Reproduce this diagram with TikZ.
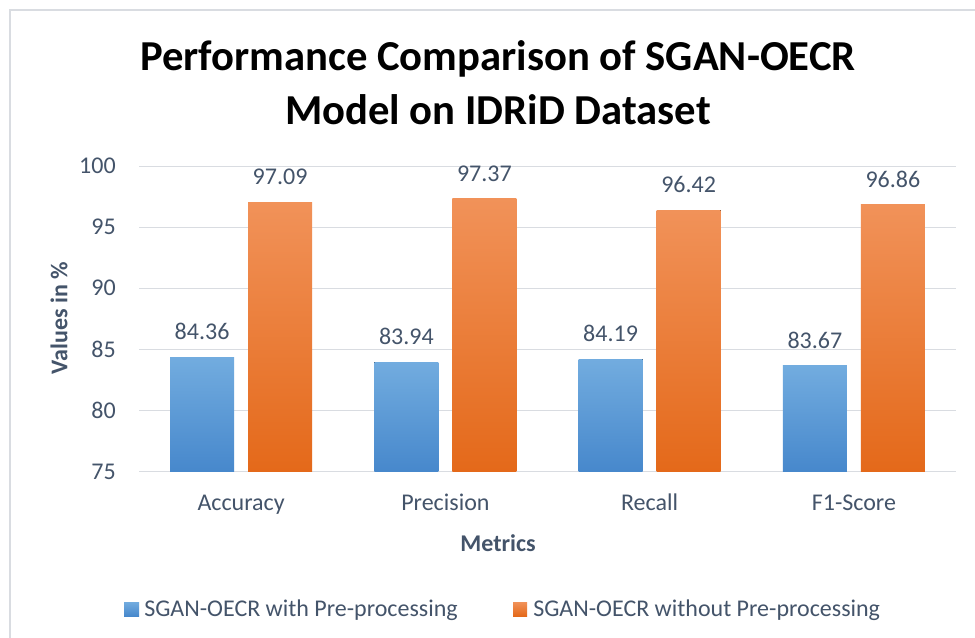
\documentclass[tikz,border=0pt]{standalone}
\usepackage{fontspec}
\setmainfont{Carlito}
\definecolor{txt}{HTML}{44546A}
\definecolor{grid}{HTML}{D9DCE1}
\definecolor{bluetop}{HTML}{72ACDF}
\definecolor{bluebot}{HTML}{4788CC}
\definecolor{orgtop}{HTML}{F19259}
\definecolor{orgbot}{HTML}{E4691A}
\begin{document}
\begin{tikzpicture}[x=0.75pt,y=-0.75pt,
  tick/.style={font=\fontsize{18}{21}\selectfont, text=txt, anchor=base east, inner sep=0pt},
  vlabel/.style={font=\fontsize{18}{21}\selectfont, text=txt, anchor=base, inner sep=0pt},
  cat/.style={font=\fontsize{18}{21}\selectfont, text=txt, anchor=base, inner sep=0pt},
  axtitle/.style={font=\bfseries\fontsize{18}{21}\selectfont, text=txt, inner sep=0pt},
  legtext/.style={font=\fontsize{18}{21}\selectfont, text=txt, anchor=base west, inner sep=0pt},
  bluebar/.style={top color=bluetop, bottom color=bluebot, draw=none},
  orgbar/.style={top color=orgtop, bottom color=orgbot, draw=none},
  ttl/.style={font=\bfseries\fontsize{32}{40}\selectfont, text=black, anchor=base, inner sep=0pt}
]
\useasboundingbox (0,0) rectangle (975,638);
\fill[white] (0,0) rectangle (975,638);
% chart border
\draw[grid, line width=0.9pt] (10,660) -- (10,10) -- (990,10);
% gridlines
\foreach \v in {75,80,...,100}{
  \pgfmathsetmacro{\yy}{471.5-(\v-75)*12.2}
  \draw[grid, line width=0.9pt] (139,\yy) -- (956,\yy);
  \node[tick] (t\v) at (116,\yy+7.5) {\v};
}
% bars
\foreach \i/\c/\a/\b/\cn in {1/241.1/84.36/97.09/Accuracy, 2/445.4/83.94/97.37/Precision, 3/649.6/84.19/96.42/Recall, 4/853.9/83.67/96.86/F1-Score}{
  \pgfmathsetmacro{\ya}{471.5-(\a-75)*12.2}
  \pgfmathsetmacro{\yb}{471.5-(\b-75)*12.2}
  \fill[bluebar] (\c-71,\ya) rectangle (\c-7,471);
  \fill[orgbar] (\c+7,\yb) rectangle (\c+71,471);
  \node[vlabel] (va\i) at (\c-39,\ya-17.5) {\a};
  \node[vlabel] (vb\i) at (\c+39,\yb-17.5) {\b};
  \node[cat] (c\i) at (\c,510) {\cn};
}
% title
\node[ttl] (title1) at (498,71) {Performance Comparison of SGAN-OECR};
\node[ttl] (title2) at (498,125) {Model on IDRiD Dataset};
% axis titles
\node[axtitle, rotate=90] (ytitle) at (59,318) {Values in \%};
\node[axtitle, anchor=base] (xtitle) at (498,551) {Metrics};
% legend
\fill[bluebar] (124,602) rectangle (139,616);
\node[legtext] (l1) at (144,616.5) {SGAN-OECR with Pre-processing};
\fill[orgbar] (513,602) rectangle (527,616);
\node[legtext] (l2) at (533,616.5) {SGAN-OECR without Pre-processing};
\end{tikzpicture}
\end{document}
